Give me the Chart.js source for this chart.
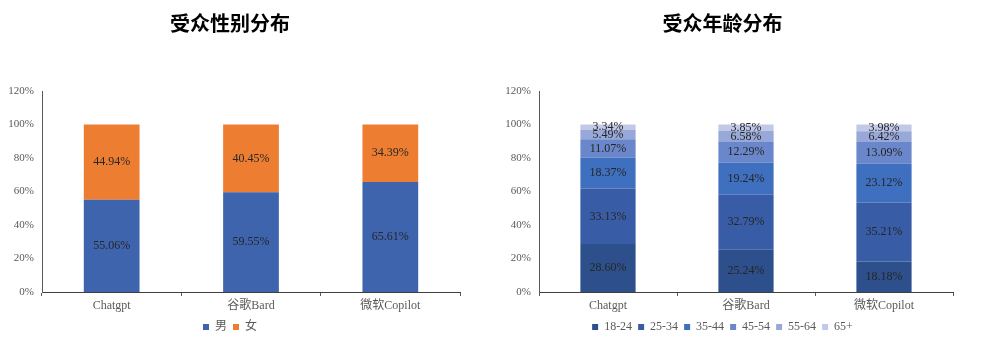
<!DOCTYPE html>
<html>
<head>
<meta charset="utf-8">
<script src="https://cdn.jsdelivr.net/npm/chart.js@4"></script>
<style>
  html, body { margin: 0; padding: 0; background: #fff; }
  body { width: 984px; height: 354px; position: relative; overflow: hidden; }
  .box { position: absolute; top: 0; height: 354px; }
</style>
</head>
<body>
<div class="box" style="left:0;width:476px"><canvas id="gender" width="476" height="354"></canvas></div>
<div class="box" style="left:492px;width:484px"><canvas id="age" width="484" height="354"></canvas></div>
<script>
// categories
const products = ["Chatgpt", "谷歌Bard", "微软Copilot"];
const yTicks = [0, 20, 40, 60, 80, 100, 120];

// gender (%)
const male = [55.06, 59.55, 65.61];
const female = [44.94, 40.45, 34.39];

// age (%)
const ageLabels = ["18-24", "25-34", "35-44", "45-54", "55-64", "65+"];
const age1824 = [28.60, 25.24, 18.18];
const age2534 = [33.13, 32.79, 35.21];
const age3544 = [18.37, 19.24, 23.12];
const age4554 = [11.07, 12.29, 13.09];
const age5564 = [5.49, 6.58, 6.42];
const age65 = [3.34, 3.85, 3.98];

Chart.defaults.font.family = "'Liberation Serif', 'Noto Sans CJK SC', serif";
Chart.defaults.font.size = 12;
Chart.defaults.color = "#595959";
Chart.defaults.animation = false;

// labels in the middle of every segment
const segLabels = {
	id: "segLabels",
	afterDatasetsDraw(chart) {
		const ctx = chart.ctx;
		ctx.save();
		ctx.font = "12px 'Liberation Serif', 'Noto Sans CJK SC', serif";
		ctx.fillStyle = "#262626";
		ctx.textAlign = "center";
		ctx.textBaseline = "middle";
		chart.data.datasets.forEach((ds, i) => {
			const meta = chart.getDatasetMeta(i);
			meta.data.forEach((bar, j) => {
				const p = bar.getProps(["x", "y", "base"], true);
				ctx.fillText(ds.data[j].toFixed(2) + "%", p.x, (p.y + p.base) / 2);
			});
		});
		ctx.restore();
	}
};

function makeChart(id, title, datasets, axisWidth, padRight) {
	return new Chart(document.getElementById(id), {
		type: "bar",
		data: { labels: products, datasets: datasets },
		plugins: [segLabels],
		options: {
			responsive: false,
			layout: { padding: { left: 0, right: padRight, top: 0, bottom: 11 } },
			datasets: { bar: { categoryPercentage: 1, barPercentage: 0.4, borderWidth: 0 } },
			scales: {
				x: {
					stacked: true,
					grid: { display: true, drawOnChartArea: false, drawTicks: true, tickLength: 4, color: "#595959", offset: true },
					border: { display: true, color: "#404040", width: 1 },
					ticks: { padding: 3, color: "#595959" },
					afterFit(s) { s.height = 23; }
				},
				y: {
					stacked: true,
					min: 0,
					max: 120,
					afterBuildTicks(s) { s.ticks = yTicks.map(v => ({ value: v })); },
					grid: { display: false, drawTicks: false },
					border: { display: true, color: "#595959", width: 1 },
					ticks: { padding: 8, callback: v => v + "%", color: "#595959", font: { size: 11 } },
					afterFit(s) { s.width = axisWidth; }
				}
			},
			plugins: {
				title: {
					display: true,
					text: title,
					color: "#000",
					font: { family: "'Noto Sans CJK SC'", size: 20, weight: "bold" },
					padding: { top: 11, bottom: 56 }
				},
				legend: {
					position: "bottom",
					labels: { boxWidth: 6, boxHeight: 6, padding: 6, color: "#595959", font: { size: 12 } }
				},
				tooltip: { enabled: false }
			}
		}
	});
}

makeChart("gender", "受众性别分布", [
	{ label: "男", data: male, backgroundColor: "#3d64ad" },
	{ label: "女", data: female, backgroundColor: "#ed7d31" }
], 42, 16);

makeChart("age", "受众年龄分布", [
	{ label: ageLabels[0], data: age1824, backgroundColor: "#2d4f8c" },
	{ label: ageLabels[1], data: age2534, backgroundColor: "#385da6" },
	{ label: ageLabels[2], data: age3544, backgroundColor: "#3f6fbf" },
	{ label: ageLabels[3], data: age4554, backgroundColor: "#6b87cc" },
	{ label: ageLabels[4], data: age5564, backgroundColor: "#98a8d9" },
	{ label: ageLabels[5], data: age65, backgroundColor: "#c1c9e7" }
], 47, 23);
</script>
</body>
</html>
